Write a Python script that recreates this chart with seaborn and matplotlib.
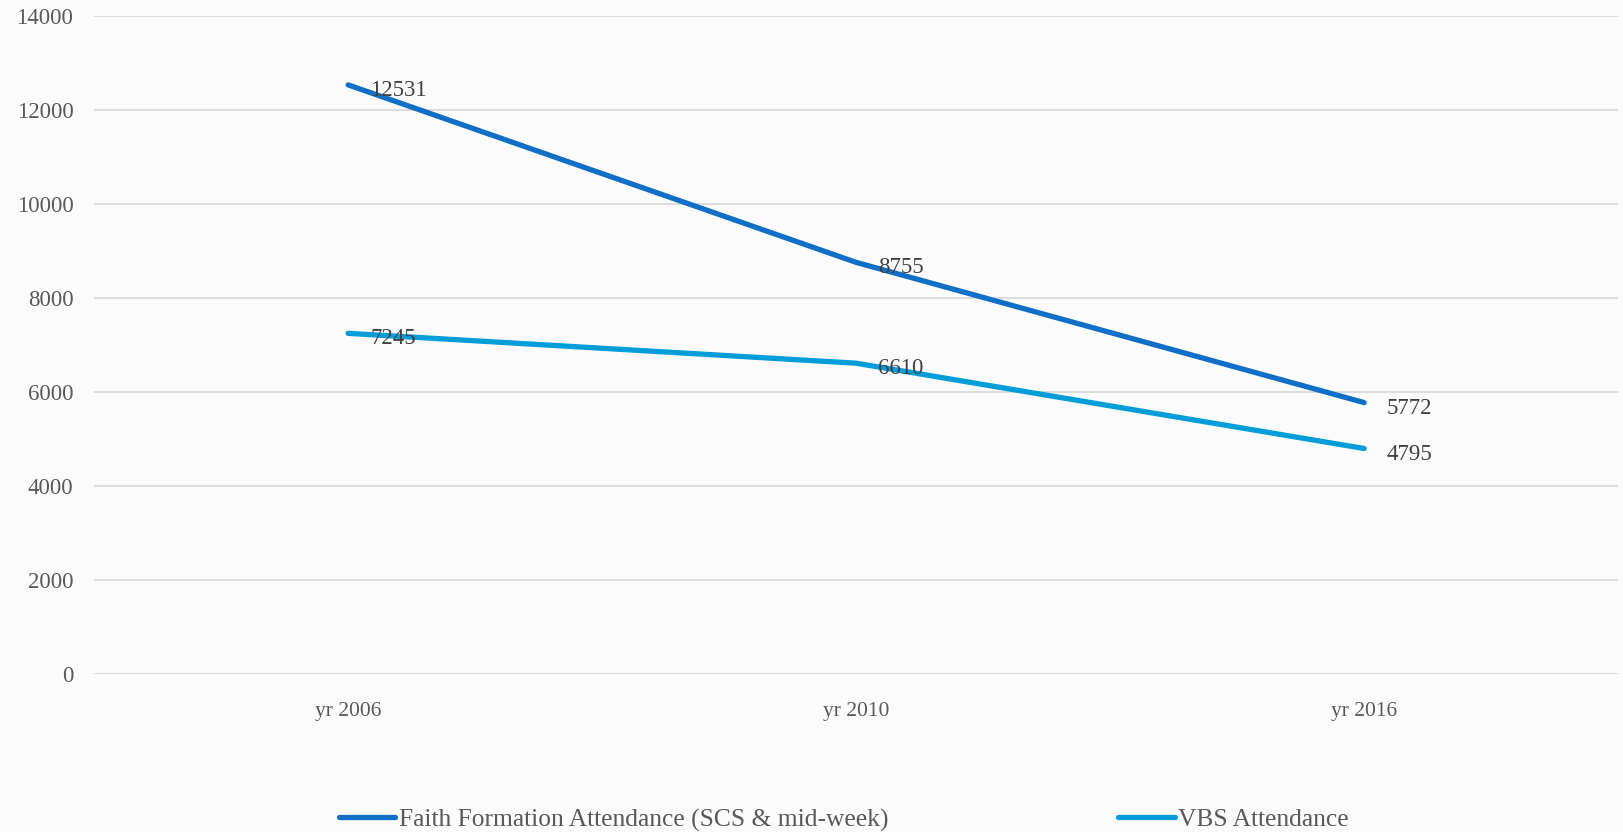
import matplotlib
matplotlib.use("Agg")
import matplotlib.pyplot as plt
import seaborn as sns
import pandas as pd

years = ["yr 2006", "yr 2010", "yr 2016"]
faith = [12531, 8755, 5772]
vbs = [7245, 6610, 4795]
series_names = ["Faith Formation Attendance (SCS & mid-week)", "VBS Attendance"]
colors = ["#0F6FC6", "#009DD9"]

df = pd.DataFrame({
    "year": years * 2,
    "value": faith + vbs,
    "series": [series_names[0]] * 3 + [series_names[1]] * 3,
})

sns.set_theme(style="white")
plt.rcParams["font.family"] = ["Liberation Serif", "DejaVu Serif"]

fig = plt.figure(figsize=(16.23, 8.32), dpi=100)
fig.patch.set_facecolor("#FBFBFB")
ax = fig.add_axes([0.058, 0.19, 0.939, 0.791])
ax.set_facecolor("#FBFBFB")

sns.lineplot(data=df, x="year", y="value", hue="series", palette=colors,
             linewidth=3.8, ax=ax, sort=False, solid_capstyle="round")

for vals in (faith, vbs):
    for i, v in enumerate(vals):
        ax.annotate(str(v), (i, v), xytext=(16, -4), textcoords="offset points",
                    ha="left", va="center", fontsize=16.5, color="#404040")

ax.set_xlim(-0.5, 2.5)
ax.set_ylim(0, 14000)
ax.set_yticks(range(0, 14001, 2000))
ax.yaxis.grid(True, color="#D9D9D9", linewidth=1.3)
ax.xaxis.grid(False)
for s in ax.spines.values():
    s.set_visible(False)
ax.tick_params(axis="both", length=0, colors="#595959")
ax.tick_params(axis="y", pad=15, labelsize=16.5)
ax.tick_params(axis="x", pad=20, labelsize=15.5)
ax.set_xlabel("")
ax.set_ylabel("")

handles, labels = ax.get_legend_handles_labels()
ax.legend(handles, labels, loc="center", bbox_to_anchor=(0.492, -0.222),
          ncol=2, frameon=False, fontsize=18.4, labelcolor="#595959",
          columnspacing=9.0, handlelength=2.2, handletextpad=0.15)

fig.savefig("out.png", dpi=100, facecolor=fig.get_facecolor())
